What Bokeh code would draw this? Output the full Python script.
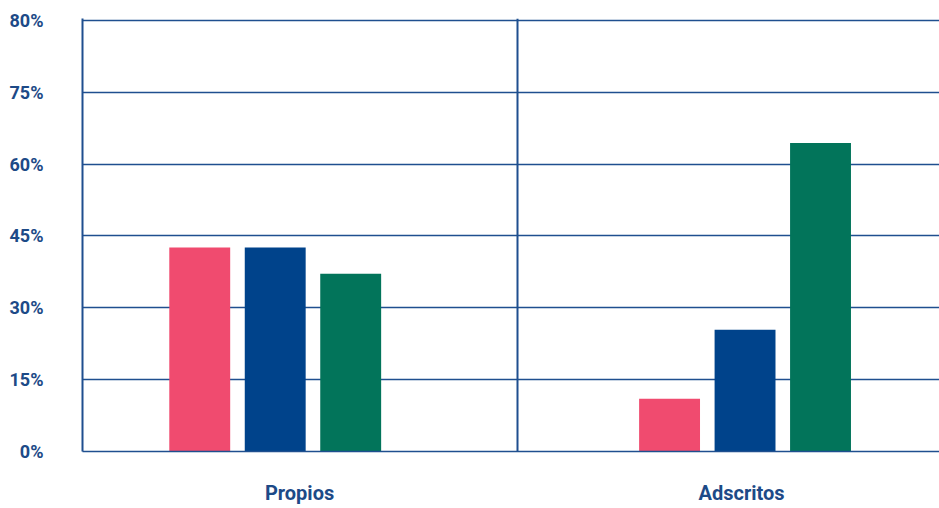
from bokeh.plotting import figure
from bokeh.models import Range1d, FixedTicker, ColumnDataSource
from bokeh.embed import file_html
from bokeh.resources import INLINE

# ---- data ----
categories = ["Propios", "Adscritos"]
series_names = ["Serie 1", "Serie 2", "Serie 3"]
serie1 = [42.6, 11.0]   # pink
serie2 = [42.6, 25.4]   # blue
serie3 = [37.1, 64.4]   # green
y_ticks = [0, 15, 30, 45, 60, 75, 90]
y_tick_labels = ["0%", "15%", "30%", "45%", "60%", "75%", "80%"]

# ---- layout / style ----
colors = ["#f04b6f", "#00438b", "#02745a"]
grid_color = "#1f4f8f"
text_color = "#1d4a87"
group_centers = [0.443, 1.523]
dodge = [-0.1735, 0.0, 0.1735]
bar_w = 0.14
label_pos = [0.499, 1.515]

p = figure(width=939, height=508, output_backend="svg", toolbar_location=None,
           x_range=Range1d(0, 1.970), y_range=Range1d(0, 90.4),
           min_border_left=82, min_border_top=18, min_border_right=0,
           min_border_bottom=57)

for vals, off, col in zip([serie1, serie2, serie3], dodge, colors):
    src = ColumnDataSource(dict(x=[c + off for c in group_centers], top=vals))
    p.vbar(x="x", top="top", width=bar_w, bottom=0, source=src,
           fill_color=col, line_color=None)

p.outline_line_color = None
p.background_fill_color = "white"

# y axis
p.yaxis.ticker = FixedTicker(ticks=y_ticks)
p.yaxis.major_label_overrides = {t: l for t, l in zip(y_ticks, y_tick_labels)}
p.yaxis.major_tick_line_color = None
p.yaxis.minor_tick_line_color = None
p.yaxis.axis_line_color = grid_color
p.yaxis.axis_line_width = 2
p.yaxis.major_label_text_font = "Roboto"
p.yaxis.major_label_text_font_style = "bold"
p.yaxis.major_label_text_font_size = "18px"
p.yaxis.major_label_text_color = text_color
p.yaxis.major_label_standoff = 33

p.ygrid.ticker = FixedTicker(ticks=y_ticks)
p.ygrid.grid_line_color = grid_color
p.ygrid.grid_line_width = 1.5

# x axis
p.xaxis.ticker = FixedTicker(ticks=label_pos)
p.xaxis.major_label_overrides = {t: c for t, c in zip(label_pos, categories)}
p.xaxis.major_tick_line_color = None
p.xaxis.minor_tick_line_color = None
p.xaxis.axis_line_color = grid_color
p.xaxis.axis_line_width = 1.5
p.xaxis.major_label_text_font = "Roboto"
p.xaxis.major_label_text_font_style = "bold"
p.xaxis.major_label_text_font_size = "20px"
p.xaxis.major_label_text_color = text_color
p.xaxis.major_label_standoff = 23

p.xgrid.ticker = FixedTicker(ticks=[1])
p.xgrid.grid_line_color = grid_color
p.xgrid.grid_line_width = 2

open("out.html", "w").write(file_html(p, INLINE))
